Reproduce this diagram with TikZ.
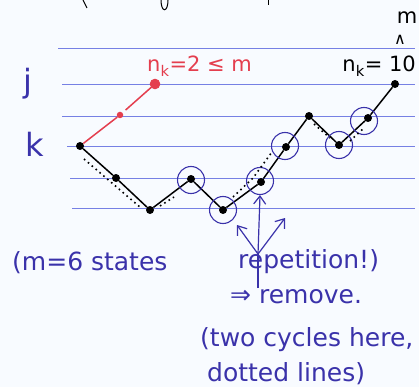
\documentclass[tikz,border=0pt]{standalone}
\usepackage{fontspec}
\setmainfont{DejaVu Sans}
\usetikzlibrary{arrows.meta, positioning}
\definecolor{ink}{RGB}{58,50,170}
\definecolor{rule}{RGB}{118,128,228}
\definecolor{redink}{RGB}{228,62,78}
\definecolor{paper}{RGB}{248,251,255}

\begin{document}
\begin{tikzpicture}[x=1pt, y=-1pt,
    state/.style = {circle, fill=black, inner sep=0pt, minimum size=8pt},
    red state/.style = {circle, fill=redink, inner sep=0pt, minimum size=6.5pt},
    rep ring/.style = {circle, draw=ink, line width=1.1pt, minimum size=27pt, inner sep=0pt},
    ruled/.style = {rule, line width=0.9pt},
    walk/.style = {black, line width=1.5pt},
    cycle line/.style = {black, line width=1.6pt, dash pattern=on 1.6pt off 3.5pt},
    hand/.style = {text=ink, font=\fontsize{25}{28}\selectfont, inner sep=0pt},
    axis label/.style = {text=ink, font=\fontsize{32}{34}\selectfont, inner sep=0pt},
    count/.style = {font=\fontsize{21}{24}\selectfont, inner sep=0pt},
    note ptr/.style = {-{Straight Barb[length=8pt, width=12pt]}, ink, line width=1.2pt}
]

\useasboundingbox (0,0) rectangle (419,387);
\fill[paper] (0,0) rectangle (419,387);

% ruled lines of the notepad
\foreach \y/\xa in {48/58, 84/62, 116/62, 146/67, 178/70, 208/72}
    \draw[ruled] (\xa,\y) -- (415,\y);

% bits of the line above
\draw[black, line width=1pt] (83,0) -- (87,8);
\draw[black, line width=1pt] (161,0) .. controls (161,13) and (168,13) .. (168,0);
\draw[black, line width=1pt] (268,0) -- (268,5);

\node[axis label, anchor=base] (lj) at (28,93) {j};
\node[axis label, anchor=base] (lk) at (35,157) {k};

% the walk
\node[state] (s0) at (80,146) {};
\node[state] (s1) at (116,178) {};
\node[state] (s2) at (150,210) {};
\node[state] (s3) at (191,179) {};
\node[state] (s4) at (223,210) {};
\node[state] (s5) at (261,182) {};
\node[state] (s6) at (286,147) {};
\node[state] (s7) at (309,116) {};
\node[state] (s8) at (339,145) {};
\node[state] (s9) at (368,118) {};
\node[state] (s10) at (395,84) {};

\draw[walk] (s0) -- (s1) -- (s2) -- (s3) -- (s4) -- (s5) -- (s6)
    -- (s7) -- (s8) -- (s9) -- (s10);

\node[rep ring] (ring3) at (191,180) {};
\node[rep ring] (ring4) at (223,210) {};
\node[rep ring] (ring5) at (260,181) {};
\node[rep ring] (ring6) at (285,146) {};
\node[rep ring] (ring8) at (339,145) {};
\node[rep ring] (ring9) at (364,121) {};

% the two cycles
\draw[cycle line] ([shift={(4,13)}]s0.center) -- ([shift={(-9,-2)}]s2.center);
\draw[cycle line] ([shift={(10,-4)}]s2.center) -- ([shift={(-17,18)}]s3.center);
\draw[cycle line] ([shift={(10,-13)}]s4.center) -- ([shift={(-8,-4)}]s5.center)
    -- ([shift={(-14,5)}]s6.center);
\draw[cycle line] ([shift={(5,8)}]s7.center) -- ([shift={(-9,-7)}]s8.center);
\draw[cycle line] ([shift={(11,-4)}]s8.center) -- ([shift={(-4,10)}]s9.center);

% short walk
\node[red state] (r1) at (120,115) {};
\node[red state, draw=redink, line width=1pt, minimum size=9.5pt] (r2) at (155,84) {};
\draw[redink, line width=1.5pt, shorten <=4pt] (s0) -- (r1) -- (r2);

\node[count, text=redink, anchor=base west] (short) at (147,72) {n\textsubscript{k}=2 ≤ m};
\node[count, anchor=base east] (long) at (416,72) {n\textsubscript{k}= 10};
\node[count, font=\fontsize{16}{18}\selectfont] (gt) at (400,40) {∧};
\node[count] (bound) at (407,18) {m};

% pointers to the repetition
\coordinate (fork) at (258,254);
\coordinate (fork foot) at (258,288);
\coordinate (left tip) at (237,225);
\coordinate (right tip) at (285,218);
\draw[ink, line width=1.2pt] (fork foot) -- (fork);
\draw[note ptr] (fork) -- (ring5.south);
\draw[note ptr] (fork) -- (left tip);
\draw[note ptr] (fork) -- (right tip);

\node[hand, anchor=base west] (states) at (12,270) {(m=6 states};
\node[hand, anchor=base west] (rep) at (238,268) {repetition!)};
\node[hand, anchor=base west] (remove) at (230,303) {⇒ remove.};
\node[hand, anchor=base west] (cycles) at (200,346) {(two cycles here,};
\node[hand, anchor=base west] (dotted) at (207,381) {dotted lines)};

\end{tikzpicture}
\end{document}
